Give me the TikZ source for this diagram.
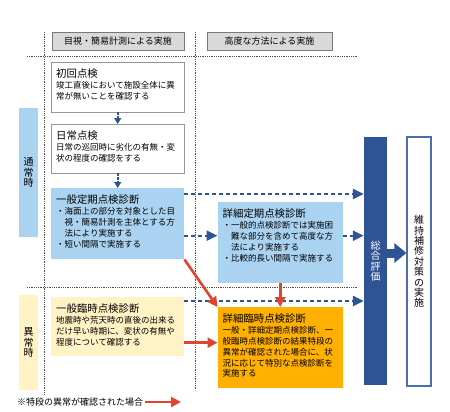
\documentclass[tikz,border=0pt]{standalone}
\usepackage{fontspec}
\setmainfont{Noto Sans CJK JP}
\usetikzlibrary{arrows.meta}
\definecolor{paleblue}{RGB}{169,211,241}
\definecolor{paleyellow}{RGB}{255,242,196}
\definecolor{accentorange}{RGB}{255,176,0}
\definecolor{deepblue}{RGB}{47,84,150}
\definecolor{arrowred}{RGB}{222,68,48}
\definecolor{framegray}{RGB}{150,150,150}
\definecolor{headgray}{RGB}{217,217,217}
\newcommand{\titlesize}{\fontsize{10.4}{12}\selectfont}
\newcommand{\bodysize}{\fontsize{8.5}{10.7}\selectfont}

\begin{document}
\begin{tikzpicture}[x=1pt, y=-1pt,
    head/.style={draw=framegray!80!black, fill=headgray, minimum height=18pt,
                 inner sep=0pt, font=\fontsize{9}{10}\selectfont},
    stage/.style={draw=framegray, fill=white, anchor=north west, align=left,
                  inner xsep=5pt, inner ysep=5pt, text height=10pt, font=\bodysize},
    side/.style={anchor=north west, minimum width=19pt, inner sep=0pt, align=center,
                 font=\fontsize{10}{10.5}\selectfont},
    bar/.style={minimum width=23pt, inner sep=0pt, align=center,
                font=\fontsize{10}{10.4}\selectfont},
    guide/.style={densely dotted, line width=0.8pt, color=black!70},
    flow/.style={draw=deepblue, line width=2.4pt, dash pattern=on 4pt off 3pt,
                 -{Triangle[length=11pt, width=10pt]}},
    flowsmall/.style={flow, line width=2pt, dash pattern=on 2.5pt off 1.5pt,
                      -{Triangle[length=6pt, width=7pt]}},
    alert/.style={draw=arrowred, line width=2.6pt, -{Triangle[length=10pt, width=10pt]}},
    bigarrow/.style={draw=deepblue, line width=9pt, -{Triangle[length=12pt, width=19pt]}}
]
\useasboundingbox (0,0) rectangle (450,412);

\draw[guide] (27,56) -- (357,56);
\draw[guide] (27,287) -- (357,287);
\draw[guide] (44,32) -- (44,395);
\draw[guide] (195,32) -- (195,390);

\node[head, minimum width=132pt] (visual) at (118,41) {目視・簡易計測による実施};
\node[head, minimum width=125pt] (advanced) at (269.5,41) {高度な方法による実施};

\node[side, fill=paleblue, minimum height=129pt] (normal) at (19,108) {通\\常\\時};
\node[side, fill=paleyellow, minimum height=95pt] (abnormal) at (19,295) {異\\常\\時};

\node[stage, text width=123pt, text depth=30pt] (first) at (51,62)
    {{\titlesize 初回点検}\\[1pt]竣工直後において施設全体に異\\常が無いことを確認する};
\node[stage, text width=123pt, text depth=29pt] (daily) at (51,124)
    {{\titlesize 日常点検}\\[1pt]日常の巡回時に劣化の有無・変\\状の程度の確認をする};
\node[stage, draw=none, fill=paleblue, text width=123pt, text depth=51pt] (regular) at (51,188)
    {{\titlesize 一般定期点検診断}\\[1pt]・海面上の部分を対象とした目\\　視・簡易計測を主体とする方\\　法により実施する\\・短い間隔で実施する};
\node[stage, draw=none, fill=paleyellow, text width=123pt, text depth=39pt] (urgent) at (51,297)
    {{\titlesize 一般臨時点検診断}\\[1pt]地震時や荒天時の直後の出来る\\だけ早い時期に、変状の有無や\\程度について確認する};
\node[stage, draw=none, fill=paleblue, text width=115pt, text depth=61pt] (detail) at (217.5,202)
    {{\titlesize 詳細定期点検診断}\\[1pt]・一般的点検診断では実施困\\　難な部分を含めて高度な方\\　法により実施する\\・比較的長い間隔で実施する};
\node[stage, draw=none, fill=accentorange, text width=115pt, text depth=61pt] (special) at (217.5,307)
    {{\titlesize 詳細臨時点検診断}\\[1pt]一般・詳細定期点検診断、一\\般臨時点検診断の結果特段の\\異常が確認された場合に、状\\況に応じて特別な点検診断を\\実施する};

\node[bar, fill=deepblue, text=white, minimum height=248pt] (eval) at (375.5,261) {総\\合\\評\\価};
\node[bar, draw=deepblue!85, line width=1.2pt, fill=white, minimum width=24pt,
      minimum height=249pt] (act) at (419,261.5) {維\\持\\補\\修\\対\\策\\の\\実\\施};

\draw[flowsmall] (first) -- (daily);
\draw[flowsmall] (daily) -- (regular);
\draw[flow] ([yshift=-6pt]regular.north east) -- ([yshift=-6pt]regular.north east -| eval.west);
\draw[flow] ([yshift=-12pt]regular.east) -- ([yshift=-12pt]regular.east -| detail.west);
\draw[flow] ([yshift=7pt]detail.east) -- ([yshift=7pt]detail.east -| eval.west);
\draw[flow] ([yshift=-4pt]urgent.north east) -- ([yshift=-4pt]urgent.north east -| eval.west);

\draw[alert] (regular.south east) -- (special.north west);
\draw[alert] (detail) -- (special);
\draw[alert] ([yshift=-16pt]urgent.east) -- ([yshift=-16pt]urgent.east -| special.west);

\draw[bigarrow] ([yshift=8pt]eval.east) -- ([yshift=8pt]eval.east -| act.west);

\node[anchor=west, inner sep=0pt, font=\fontsize{9}{10}\selectfont] (note) at (17,402)
    {※特段の異常が確認された場合};
\coordinate (noteend) at (181,402);
\draw[alert] ([xshift=2pt]note.east) -- (noteend);
\end{tikzpicture}
\end{document}
